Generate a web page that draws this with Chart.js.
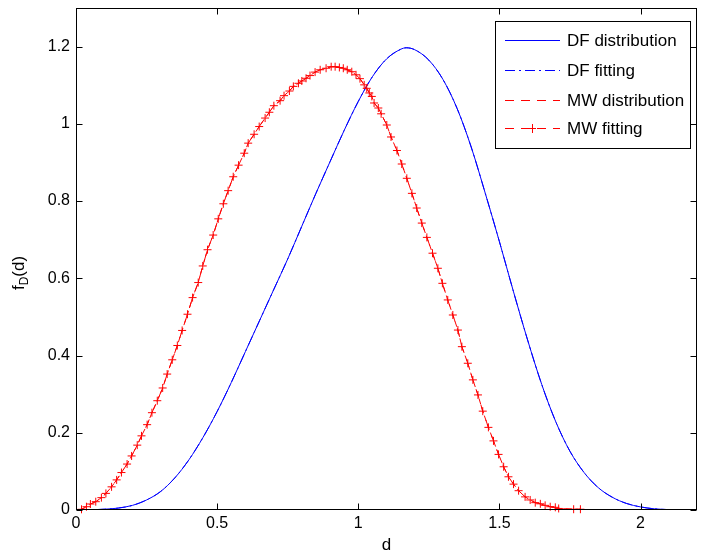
<!DOCTYPE html>
<html>
<head>
<meta charset="utf-8">
<script src="https://cdn.jsdelivr.net/npm/chart.js@4.4.0/dist/chart.umd.min.js"></script>
<style>
  html, body { margin: 0; padding: 0; background: #fff; }
  #wrap { width: 705px; height: 555px; }
</style>
</head>
<body>
<div id="wrap"><canvas id="fdChart" width="705" height="555"></canvas></div>
<script>
// tick labels
var xTicks = [0, 0.5, 1, 1.5, 2];
var yTicks = [0, 0.2, 0.4, 0.6, 0.8, 1, 1.2];

// DF curve
var dfX = [0, 0.05, 0.1, 0.15, 0.2, 0.25, 0.3, 0.35, 0.4, 0.45, 0.5, 0.55, 0.6, 0.65, 0.7, 0.75, 0.8, 0.85, 0.9, 0.95,
  1.0, 1.05, 1.1, 1.15, 1.17, 1.2, 1.25, 1.3, 1.35, 1.4, 1.45, 1.5, 1.55, 1.6, 1.65, 1.7, 1.75, 1.8, 1.85, 1.9,
  1.95, 2.0, 2.05, 2.1];
var dfY = [0, 0.0005, 0.002, 0.005, 0.012, 0.026, 0.048, 0.083, 0.13, 0.188, 0.255, 0.33, 0.41, 0.49, 0.57, 0.65, 0.735, 0.82, 0.902, 0.983,
  1.058, 1.122, 1.168, 1.193, 1.197, 1.192, 1.165, 1.115, 1.04, 0.94, 0.82, 0.695, 0.565, 0.44, 0.325, 0.228, 0.152, 0.097, 0.058, 0.033,
  0.017, 0.008, 0.003, 0.001];

// MW fitting points (the + markers)
var mwX = [0, 0.0195, 0.037, 0.051, 0.070, 0.090, 0.106, 0.126, 0.144, 0.161, 0.181, 0.197, 0.217, 0.232, 0.252, 0.269, 0.288, 0.307, 0.323, 0.341,
  0.359, 0.376, 0.395, 0.413, 0.433, 0.449, 0.466, 0.486, 0.504, 0.522, 0.539, 0.557, 0.576, 0.596, 0.610, 0.631, 0.649, 0.670, 0.685, 0.701,
  0.723, 0.737, 0.756, 0.770, 0.788, 0.800, 0.815, 0.829, 0.847, 0.865, 0.886, 0.904, 0.918, 0.933, 0.947, 0.961, 0.977, 0.992, 1.006, 1.021,
  1.030, 1.039, 1.048, 1.056, 1.071, 1.081, 1.101, 1.116, 1.137, 1.154, 1.172, 1.190, 1.207, 1.225, 1.243, 1.263, 1.282, 1.298, 1.317, 1.335,
  1.353, 1.367, 1.388, 1.406, 1.424, 1.441, 1.461, 1.479, 1.497, 1.515, 1.532, 1.550, 1.568, 1.591, 1.609, 1.627, 1.645, 1.662, 1.680, 1.698,
  1.710, 1.763, 1.787];
var mwY = [0, 0.0018, 0.0085, 0.0155, 0.0215, 0.032, 0.043, 0.060, 0.078, 0.097, 0.119, 0.140, 0.168, 0.192, 0.221, 0.252, 0.283, 0.316, 0.352, 0.389,
  0.426, 0.465, 0.507, 0.550, 0.589, 0.632, 0.674, 0.712, 0.754, 0.793, 0.827, 0.863, 0.893, 0.924, 0.950, 0.973, 0.993, 1.015, 1.030, 1.047,
  1.060, 1.073, 1.085, 1.097, 1.105, 1.111, 1.118, 1.125, 1.134, 1.140, 1.144, 1.148, 1.148, 1.146, 1.144, 1.140, 1.135, 1.127, 1.117, 1.101,
  1.092, 1.080, 1.071, 1.054, 1.041, 1.026, 0.997, 0.966, 0.931, 0.896, 0.859, 0.820, 0.782, 0.743, 0.706, 0.665, 0.626, 0.587, 0.544, 0.505,
  0.466, 0.423, 0.380, 0.337, 0.298, 0.256, 0.214, 0.179, 0.144, 0.112, 0.086, 0.067, 0.050, 0.034, 0.026, 0.019, 0.016, 0.012, 0.0085, 0.007,
  0.004, 0.002, 0.002];

var legendNames = ['DF distribution', 'DF fitting', 'MW distribution', 'MW fitting'];

var BLUE = '#0000ff';
var RED = '#ff0000';
var FONT = '"Liberation Sans", Arial, Helvetica, sans-serif';

function pts(xs, ys) {
  return xs.map(function (x, i) { return { x: x, y: ys[i] }; });
}

// frame, inward ticks, axis titles and the legend box
var decorPlugin = {
  id: 'decor',
  afterDraw: function (chart) {
    var ctx = chart.ctx;
    var a = chart.chartArea;
    var xs = chart.scales.x, ys = chart.scales.y;
    var L = Math.round(a.left) + 0.5, R = Math.round(a.right) - 0.5;
    var T = Math.round(a.top) + 0.5, B = Math.round(a.bottom) - 0.5;
    ctx.save();
    ctx.strokeStyle = '#000';
    ctx.lineWidth = 1;
    ctx.strokeRect(L, T, R - L, B - T);
    ctx.beginPath();
    xTicks.forEach(function (v) {
      var px = Math.round(xs.getPixelForValue(v)) + 0.5;
      ctx.moveTo(px, B); ctx.lineTo(px, B - 6);
      ctx.moveTo(px, T); ctx.lineTo(px, T + 6);
    });
    yTicks.forEach(function (v) {
      var py = Math.round(ys.getPixelForValue(v)) + 0.5;
      ctx.moveTo(L, py); ctx.lineTo(L + 6, py);
      ctx.moveTo(R, py); ctx.lineTo(R - 6, py);
    });
    ctx.stroke();

    // x title
    ctx.fillStyle = '#000';
    ctx.font = '17px ' + FONT;
    ctx.textAlign = 'center';
    ctx.textBaseline = 'middle';
    ctx.fillText('d', (a.left + a.right) / 2, 545);

    // y title f_D(d)
    ctx.save();
    ctx.translate(19, 273);
    ctx.rotate(-Math.PI / 2);
    ctx.textAlign = 'left';
    ctx.font = '17px ' + FONT;
    var w1 = ctx.measureText('f').width, w3 = ctx.measureText('(d)').width;
    ctx.font = '12px ' + FONT;
    var w2 = ctx.measureText('D').width;
    var x0 = -(w1 + w2 + w3) / 2;
    ctx.font = '17px ' + FONT;
    ctx.fillText('f', x0, 0);
    ctx.font = '12px ' + FONT;
    ctx.fillText('D', x0 + w1, 6);
    ctx.font = '17px ' + FONT;
    ctx.fillText('(d)', x0 + w1 + w2, 0);
    ctx.restore();

    // legend
    var bx = 495.5, by = 21.5, bw = 195, bh = 127;
    ctx.fillStyle = '#fff';
    ctx.fillRect(bx, by, bw, bh);
    ctx.strokeStyle = '#000';
    ctx.strokeRect(bx, by, bw, bh);
    var rows = [40, 70, 100, 128];
    var styles = [
      { c: BLUE, dash: [] },
      { c: BLUE, dash: [10, 4, 2, 4] },
      { c: RED, dash: [9, 7] },
      { c: RED, dash: [9, 7], mark: true }
    ];
    rows.forEach(function (ry, i) {
      var s = styles[i];
      ctx.save();
      ctx.strokeStyle = s.c;
      ctx.lineWidth = 1;
      ctx.setLineDash(s.dash);
      ctx.beginPath();
      ctx.moveTo(505, ry + 0.5); ctx.lineTo(560, ry + 0.5);
      ctx.stroke();
      if (s.mark) {
        ctx.setLineDash([]);
        ctx.beginPath();
        ctx.moveTo(528, ry + 0.5); ctx.lineTo(536, ry + 0.5);
        ctx.moveTo(532.5, ry - 4); ctx.lineTo(532.5, ry + 5);
        ctx.stroke();
      }
      ctx.restore();
      ctx.fillStyle = '#000';
      ctx.font = '17px ' + FONT;
      ctx.textAlign = 'left';
      ctx.textBaseline = 'middle';
      ctx.fillText(legendNames[i], 567, ry + 1);
    });
    ctx.restore();
  }
};

var tickFont = { family: FONT, size: 16 };

var chart = new Chart(document.getElementById('fdChart').getContext('2d'), {
  type: 'scatter',
  data: {
    datasets: [{
      label: legendNames[0],
      data: pts(dfX, dfY),
      showLine: true,
      borderColor: BLUE,
      borderWidth: 1,
      pointRadius: 0,
      cubicInterpolationMode: 'monotone',
      order: 3
    }, {
      label: legendNames[1],
      data: pts(dfX, dfY),
      showLine: true,
      borderColor: BLUE,
      borderWidth: 1,
      borderDash: [10, 4, 2, 4],
      pointRadius: 0,
      cubicInterpolationMode: 'monotone',
      order: 2
    }, {
      label: legendNames[2],
      data: pts(mwX, mwY),
      showLine: true,
      borderColor: RED,
      borderWidth: 1,
      borderDash: [9, 7],
      pointRadius: 0,
      order: 1
    }, {
      label: legendNames[3],
      data: pts(mwX.slice(1), mwY.slice(1)),
      showLine: true,
      borderColor: RED,
      borderWidth: 1,
      borderDash: [6, 3],
      pointStyle: 'cross',
      pointRadius: 4,
      pointBorderColor: RED,
      pointBorderWidth: 1,
      clip: false,
      order: 0
    }]
  },
  options: {
    responsive: false,
    devicePixelRatio: 1,
    animation: false,
    layout: { padding: { top: 8, right: 8, left: 0, bottom: 0 } },
    plugins: {
      legend: { display: false },
      tooltip: { enabled: false },
      title: { display: false }
    },
    scales: {
      x: {
        type: 'linear',
        min: 0,
        max: 2.2,
        grid: { display: false, drawTicks: false },
        border: { display: false },
        ticks: {
          color: '#000',
          font: tickFont,
          padding: 4,
          maxRotation: 0,
          includeBounds: false,
          callback: function (v) { return String(v); }
        },
        afterBuildTicks: function (s) { s.ticks = xTicks.map(function (v) { return { value: v }; }); },
        afterFit: function (s) { s.height = 45; s.paddingLeft = 0; s.paddingRight = 0; }
      },
      y: {
        type: 'linear',
        min: 0,
        max: 1.3,
        grid: { display: false, drawTicks: false },
        border: { display: false },
        ticks: {
          color: '#000',
          font: tickFont,
          padding: 6,
          includeBounds: false,
          callback: function (v) { return String(v); }
        },
        afterBuildTicks: function (s) { s.ticks = yTicks.map(function (v) { return { value: v }; }); },
        afterFit: function (s) { s.width = 76; s.paddingTop = 0; s.paddingBottom = 0; }
      }
    }
  },
  plugins: [decorPlugin]
});
</script>
</body>
</html>
